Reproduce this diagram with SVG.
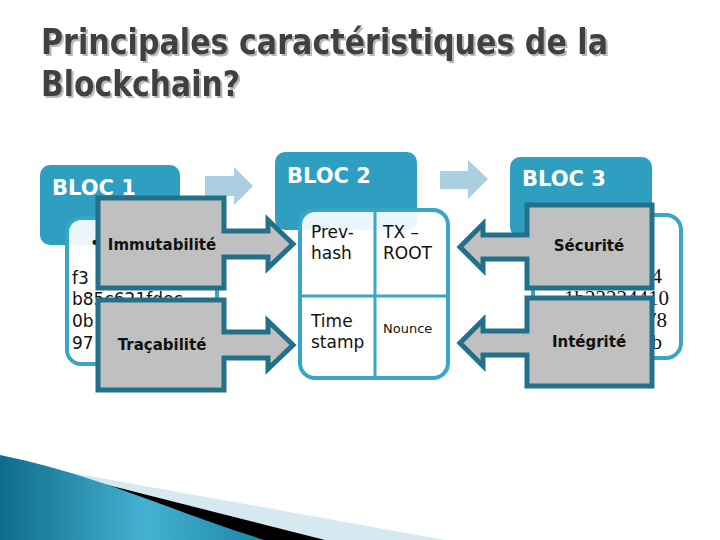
<svg xmlns="http://www.w3.org/2000/svg" width="720" height="540" viewBox="0 0 720 540">
<defs>
<linearGradient id="swoosh" x1="0" y1="0" x2="1" y2="0">
<stop offset="0" stop-color="#0f6c8a"/>
<stop offset="0.55" stop-color="#45b1d2"/>
<stop offset="1" stop-color="#1b86a8"/>
</linearGradient>
<filter id="tshadow" x="-5%" y="-20%" width="110%" height="150%">
<feDropShadow dx="2" dy="2" stdDeviation="0.6" flood-color="#b8b8b8" flood-opacity="1"/>
</filter>
<style>
.title{font-family:"DejaVu Sans","Liberation Sans",sans-serif;font-weight:bold;font-size:35px;fill:#404040}
.hdr{fill:#2e9fc1}
.body{fill:#ffffff;fill-opacity:0.9;stroke:#3aa6c6;stroke-width:4}
.div{stroke:#3aa6c6;stroke-width:3}
.bloc{font-family:"DejaVu Sans","Liberation Sans",sans-serif;font-weight:bold;font-size:21px;fill:#ffffff}
.t{font-family:"DejaVu Sans","Liberation Sans",sans-serif;font-size:17px;fill:#111111}
.s{font-family:"Liberation Serif","DejaVu Serif",serif;font-size:21px;fill:#111111}
.call{fill:#c0c0c0;stroke:#22708a;stroke-width:5;stroke-linejoin:miter}
.ct{font-family:"DejaVu Sans","Liberation Sans",sans-serif;font-weight:bold;font-size:15px;fill:#111111;text-anchor:middle}
.la{fill:#a9cfe1}
</style>
</defs>
<rect width="720" height="540" fill="#ffffff"/>

<g id="title" filter="url(#tshadow)">
<text class="title" x="41" y="54" textLength="567" lengthAdjust="spacingAndGlyphs">Principales caractéristiques de la</text>
<text class="title" x="41" y="96" textLength="199" lengthAdjust="spacingAndGlyphs">Blockchain?</text>
</g>

<g id="swoosh">
<path d="M45,468 L445,540 L325,540 L37,467 Z" fill="#d6e9f0"/>
<path d="M37,467 L325,540 L200,540 L0,470 Z" fill="#000000"/>
<path d="M0,455 C100,475 180,515 265,540 L0,540 Z" fill="url(#swoosh)"/>
</g>

<g id="connectors">
<path class="la" d="M205,176 H234 V167 L253,186 L234,205 V196 H205 Z"/>
<path class="la" d="M440,171 H468 V160 L488,179 L468,199 V189 H440 Z"/>
</g>

<g id="bloc1">
<rect class="hdr" x="40" y="165" width="140" height="80" rx="10"/>
<rect class="body" x="67" y="218" width="150" height="146" rx="14"/>
<text class="bloc" x="52" y="195">BLOC 1</text>
<text class="t" x="90" y="249">•</text>
<text class="t" x="72" y="284">f3</text>
<text class="t" x="72" y="305">b85c621fdec</text>
<text class="t" x="72" y="327">0b</text>
<text class="t" x="72" y="349">97</text>
</g>

<g id="bloc2">
<rect class="hdr" x="275" y="152" width="142" height="78" rx="10"/>
<rect class="body" x="300" y="210" width="148" height="168" rx="15"/>
<line class="div" x1="375" y1="212" x2="375" y2="376"/>
<line class="div" x1="302" y1="296" x2="446" y2="296"/>
<text class="bloc" x="287" y="183">BLOC 2</text>
<text class="t" x="311" y="238">Prev-</text>
<text class="t" x="311" y="259">hash</text>
<text class="t" x="383" y="238">TX –</text>
<text class="t" x="383" y="259">ROOT</text>
<text class="t" x="311" y="327">Time</text>
<text class="t" x="311" y="348">stamp</text>
<text class="t" x="383" y="333" style="font-size:13px">Nounce</text>
</g>

<g id="bloc3">
<rect class="hdr" x="510" y="157" width="142" height="80" rx="10"/>
<rect class="body" x="533" y="215" width="148" height="143" rx="15"/>
<text class="bloc" x="522" y="186">BLOC 3</text>
<text class="s" x="662" y="283" text-anchor="end">4</text>
<text class="s" x="669" y="305" text-anchor="end">1b22224410</text>
<text class="s" x="667" y="327" text-anchor="end">78</text>
<text class="s" x="662" y="349" text-anchor="end">b</text>
</g>

<g id="immutabilite">
<path class="call" d="M98,198 H224 V231 H268 V220 L293,244 L268,268 V257 H224 V288 H98 Z"/>
<text class="ct" x="162" y="250">Immutabilité</text>
</g>

<g id="tracabilite">
<path class="call" d="M98,300 H224 V332 H268 V321 L293,345 L268,369 V358 H224 V390 H98 Z"/>
<text class="ct" x="162" y="350">Traçabilité</text>
</g>

<g id="securite">
<path class="call" d="M652,205 H527 V235 H483 V224 L460,247 L483,270 V259 H527 V288 H652 Z"/>
<text class="ct" x="589" y="251">Sécurité</text>
</g>

<g id="integrite">
<path class="call" d="M652,298 H527 V331 H483 V320 L460,343 L483,366 V355 H527 V386 H652 Z"/>
<text class="ct" x="589" y="347">Intégrité</text>
</g>
</svg>
